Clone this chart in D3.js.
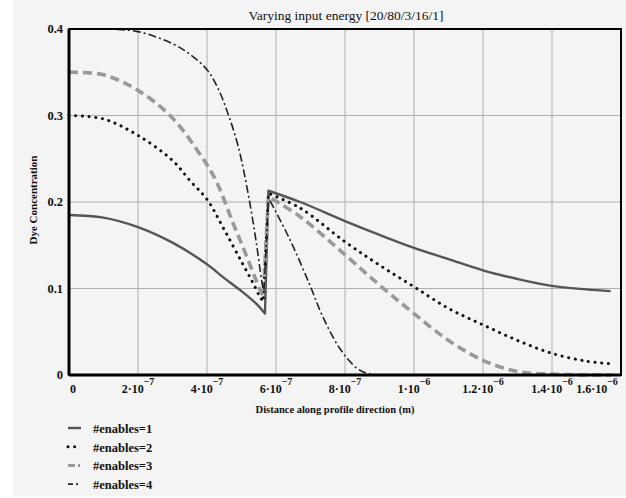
<!DOCTYPE html>
<html>
<head>
<meta charset="utf-8">
<script src="https://cdn.jsdelivr.net/npm/d3@7"></script>
<style>
  body { margin: 0; background: #fff; }
  text { font-family: "Liberation Serif", "DejaVu Serif", serif; fill: #111; }
</style>
</head>
<body>
<div id="chart"></div>
<script>
// chart values (x in metres, y = dye concentration)
var xTicks = [0, 2e-7, 4e-7, 6e-7, 8e-7, 1e-6, 1.2e-6, 1.4e-6, 1.6e-6];
var xTickMant = ["0", "2\u00b710", "4\u00b710", "6\u00b710", "8\u00b710", "1\u00b710", "1.2\u00b710", "1.4\u00b710", "1.6\u00b710"];
var xTickExp = ["", "\u22127", "\u22127", "\u22127", "\u22127", "\u22126", "\u22126", "\u22126", "\u22126"];
var yTicks = [0, 0.1, 0.2, 0.3, 0.4];
var yTickLabels = ["0", "0.1", "0.2", "0.3", "0.4"];
var seriesNames = ["#enables=1", "#enables=2", "#enables=3", "#enables=4"];

// positions read in units of 1e-7 m
var x1 = [0, 1, 2, 3, 4, 4.5, 5, 5.44, 5.68, 5.78, 6.7, 8, 9, 10, 11, 12, 13, 14, 15, 15.7];
var y1 = [.185, .182, .171, .153, .128, .112, .097, .082, .071, .213, .200, .178, .162, .147, .134, .121, .111, .103, .099, .097];

var x2 = [0, 1, 2, 3, 3.5, 4, 4.5, 5, 5.34, 5.54, 5.63, 5.78, 6.7, 8, 9, 10, 11, 12, 13, 14, 15, 15.7];
var y2 = [.300, .296, .277, .248, .225, .203, .168, .131, .106, .090, .085, .210, .193, .154, .127, .102, .077, .058, .040, .025, .016, .013];

var x3 = [0, 1, 2, 3, 3.9, 4.28, 4.76, 5.0, 5.34, 5.54, 5.63, 5.78, 6.7, 8, 9, 10, 11, 12, 13, 14, 15, 15.7];
var y3 = [.350, .347, .329, .297, .249, .223, .175, .152, .118, .098, .092, .206, .183, .139, .104, .071, .040, .017, .004, .001, 0, 0];

var x4 = [0, 1, 2, 3, 3.5, 4, 4.3, 4.6, 4.9, 5.2, 5.44, 5.58, 5.65, 5.78, 6.41, 6.97, 7.35, 7.86, 8.34, 8.63, 9];
var y4 = [.400, .400, .397, .383, .371, .353, .333, .303, .265, .208, .150, .110, .095, .205, .156, .105, .068, .030, .008, .002, 0];

var jumpAt = 5.78; // x of the upward jump (1e-7 m)

var W = 626, H = 498;
var margin = { top: 29, right: 5, bottom: 123, left: 69 },
    width = W - margin.left - margin.right,
    height = H - margin.top - margin.bottom;

var svg = d3.select("#chart").append("svg")
    .attr("width", W)
    .attr("height", H);

// paper-ish background
svg.append("rect").attr("x", 13).attr("y", 0).attr("width", W - 13).attr("height", H - 2)
    .attr("fill", "#f4f4f4");

var g = svg.append("g")
    .attr("transform", "translate(" + margin.left + "," + margin.top + ")");

var x = d3.scaleLinear().domain([0, 1.6e-6]).range([0, width]);
var y = d3.scaleLinear().domain([0, 0.4]).range([height, 0]);

// grid
g.append("g").selectAll("line").data(xTicks.slice(1, -1)).enter().append("line")
    .attr("x1", function (d) { return x(d); }).attr("x2", function (d) { return x(d); })
    .attr("y1", 0).attr("y2", height)
    .attr("stroke", "#b0b0b0").attr("stroke-width", 1);
g.append("g").selectAll("line").data(yTicks.slice(1, -1)).enter().append("line")
    .attr("y1", function (d) { return y(d); }).attr("y2", function (d) { return y(d); })
    .attr("x1", 0).attr("x2", width)
    .attr("stroke", "#b0b0b0").attr("stroke-width", 1);

// curves
var styles = [
    { color: "#555", w: 2.4, dash: null, cap: "butt" },
    { color: "#111", w: 3, dash: "0.1 6.6", cap: "round" },
    { color: "#999", w: 3.6, dash: "9 5", cap: "butt" },
    { color: "#222", w: 1.6, dash: "8 3 2 3", cap: "butt" }
];
var series = [[x1, y1], [x2, y2], [x3, y3], [x4, y4]].map(function (s) {
    return s[0].map(function (v, i) { return [v * 1e-7, s[1][i]]; });
});

var line = d3.line()
    .x(function (d) { return x(d[0]); })
    .y(function (d) { return y(d[1]); })
    .curve(d3.curveCatmullRom.alpha(0.5));

// smooth pieces before / after the jump, joined by a straight segment
function jumpPath(s) {
    var pre = s.filter(function (d) { return d[0] < jumpAt * 1e-7 - 1e-12; });
    var post = s.filter(function (d) { return d[0] >= jumpAt * 1e-7 - 1e-12; });
    return line(pre) + "L" + line(post).slice(1);
}

series.forEach(function (s, i) {
    g.append("path")
        .attr("d", jumpPath(s))
        .attr("fill", "none")
        .attr("stroke", styles[i].color)
        .attr("stroke-width", styles[i].w)
        .attr("stroke-linecap", styles[i].cap)
        .attr("stroke-linejoin", "round")
        .attr("stroke-dasharray", styles[i].dash);
});

// frame
g.append("rect").attr("width", width).attr("height", height)
    .attr("fill", "none").attr("stroke", "#000").attr("stroke-width", 2);
g.append("line").attr("x1", 0).attr("x2", 0).attr("y1", 0).attr("y2", height)
    .attr("stroke", "#000").attr("stroke-width", 3);
g.append("line").attr("x1", 0).attr("x2", width).attr("y1", height).attr("y2", height)
    .attr("stroke", "#000").attr("stroke-width", 3);

// y tick labels
g.append("g").selectAll("text").data(yTicks).enter().append("text")
    .attr("x", -6)
    .attr("y", function (d) { return y(d) + 4; })
    .attr("text-anchor", "end")
    .attr("font-size", "12.5px")
    .attr("font-weight", "bold")
    .text(function (d, i) { return yTickLabels[i]; });

// x tick labels with superscripts
var xl = g.append("g").selectAll("text").data(xTicks).enter().append("text")
    .attr("x", function (d, i) {
        if (i === 0) return x(d) + 4;
        if (i === xTicks.length - 1) return x(d) - 24;
        return x(d);
    })
    .attr("y", height + 18)
    .attr("text-anchor", "middle")
    .attr("font-size", "12px")
    .attr("font-weight", "bold");
xl.append("tspan").text(function (d, i) { return xTickMant[i]; });
xl.append("tspan").attr("dy", -8).attr("font-size", "10px")
    .text(function (d, i) { return xTickExp[i]; });

// titles
svg.append("text").attr("x", 346).attr("y", 20).attr("text-anchor", "middle")
    .attr("font-size", "13.5px").text("Varying input energy [20/80/3/16/1]");
svg.append("text").attr("x", 335).attr("y", 413).attr("text-anchor", "middle")
    .attr("font-size", "10.5px").attr("font-weight", "bold")
    .text("Distance along profile direction (m)");
svg.append("text").attr("transform", "translate(37,200) rotate(-90)")
    .attr("text-anchor", "middle").attr("font-size", "11px").attr("font-weight", "bold")
    .text("Dye Concentration");

// legend
var legend = svg.append("g").attr("transform", "translate(68,429)");
var leg = legend.selectAll("g").data(seriesNames).enter().append("g")
    .attr("transform", function (d, i) { return "translate(0," + (i * 18.7) + ")"; });
var legendDash = [null, "0.1 6.5", "7 3 2 3", "5 3 2 3"];
leg.append("line")
    .attr("x1", 0).attr("x2", 13).attr("y1", -1).attr("y2", -1)
    .attr("stroke", function (d, i) { return styles[i].color; })
    .attr("stroke-width", function (d, i) { return Math.min(styles[i].w, 3); })
    .attr("stroke-linecap", function (d, i) { return styles[i].cap; })
    .attr("stroke-dasharray", function (d, i) { return legendDash[i]; });
leg.append("text")
    .attr("x", 25).attr("y", 4)
    .attr("font-size", "12.5px").attr("font-weight", "bold")
    .text(function (d) { return d; });
</script>
</body>
</html>
